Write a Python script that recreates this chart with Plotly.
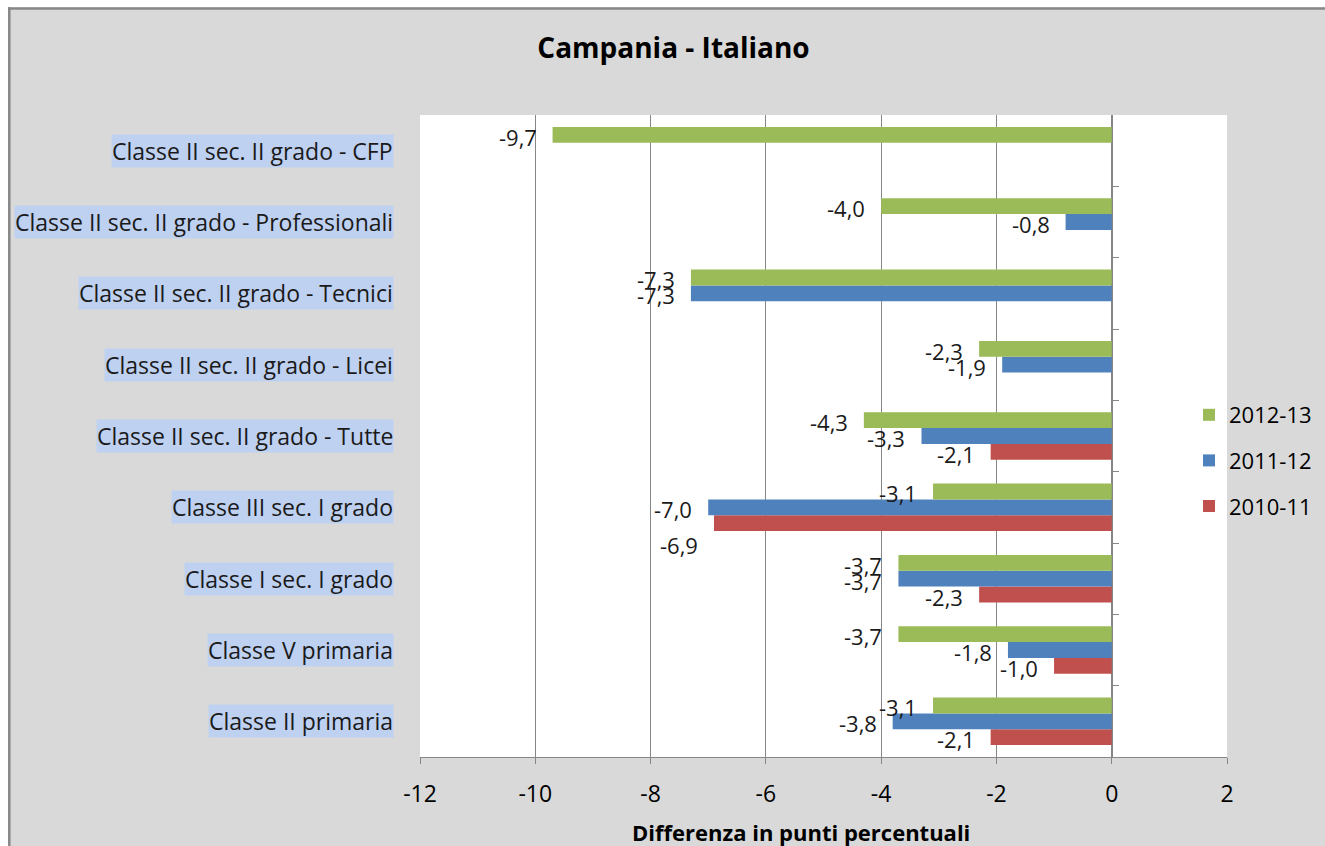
import plotly.graph_objects as go

# ---------------- data ----------------
categories = [
    "Classe II primaria",
    "Classe V primaria",
    "Classe I sec. I grado",
    "Classe III sec. I grado",
    "Classe II sec. II grado - Tutte",
    "Classe II sec. II grado - Licei",
    "Classe II sec. II grado - Tecnici",
    "Classe II sec. II grado - Professionali",
    "Classe II sec. II grado - CFP",
]
v_2010_11 = [-2.1, -1.0, -2.3, -6.9, -2.1, None, None, None, None]
v_2011_12 = [-3.8, -1.8, -3.7, -7.0, -3.3, -1.9, -7.3, -0.8, None]
v_2012_13 = [-3.1, -3.7, -3.7, -3.1, -4.3, -2.3, -7.3, -4.0, -9.7]
x_ticks = [-12, -10, -8, -6, -4, -2, 0, 2]

series = [
    ("2010-11", v_2010_11, "#c0504d"),
    ("2011-12", v_2011_12, "#4f81bd"),
    ("2012-13", v_2012_13, "#9bbb59"),
]
legend_rank = {"2012-13": 1, "2011-12": 2, "2010-11": 3}

# label placement (pixels) for each series, plus individual nudges
label_yshift = {"2010-11": -18, "2011-12": -2, "2012-13": 14}
label_nudge = {("2010-11", "Classe III sec. I grado"): -20}

FONT = "Open Sans, Lato, sans-serif"
GRID = "#868686"

W, H = 1325, 846
L, R, T, B = 420, 98, 115, 89
PW, PH = W - L - R, H - T - B


def px_x(p):
    return (p - L) / PW


def px_y(p):
    return (H - B - p) / PH


fig = go.Figure()
for name, vals, col in series:
    fig.add_trace(go.Bar(
        y=categories, x=vals, name=name, orientation="h",
        marker=dict(color=col, line=dict(width=0)),
        legendgroup=name, legendrank=legend_rank[name],
    ))

annotations = []
for name, vals, col in series:
    for cat, v in zip(categories, vals):
        if v is None:
            continue
        annotations.append(dict(
            x=v, y=cat, xref="x", yref="y",
            text=f"{v:.1f}".replace(".", ","),
            showarrow=False, xanchor="right", yanchor="middle",
            xshift=-14, yshift=label_yshift[name] + label_nudge.get((name, cat), 0),
            font=dict(family=FONT, size=22, color="#1a1a1a"),
        ))

# category labels with highlighted background
for cat in categories:
    annotations.append(dict(
        x=px_x(394), y=cat, xref="paper", yref="y",
        text=cat, showarrow=False, xanchor="right", yanchor="middle",
        bgcolor="#bfd1f0", borderpad=0,
        font=dict(family=FONT, size=23, color="#1a1a1a"),
    ))

# axis title
annotations.append(dict(
    x=px_x(801), y=px_y(832), xref="paper", yref="paper",
    text="<b>Differenza in punti percentuali</b>", showarrow=False,
    xanchor="center", yanchor="middle",
    font=dict(family=FONT, size=22, color="#000000"),
))

shapes = [
    # white strips outside the chart frame
    dict(type="rect", xref="paper", yref="paper", x0=-1, x1=2,
         y0=px_y(7.5), y1=px_y(-20), fillcolor="white", line=dict(width=0), layer="above"),
    dict(type="rect", xref="paper", yref="paper", x0=px_x(-20), x1=px_x(8),
         y0=px_y(900), y1=px_y(-20), fillcolor="white", line=dict(width=0), layer="above"),
    # frame lines
    dict(type="line", xref="paper", yref="paper", x0=px_x(8), x1=px_x(1340),
         y0=px_y(8.5), y1=px_y(8.5), line=dict(color="#878787", width=2.5), layer="above"),
    dict(type="line", xref="paper", yref="paper", x0=px_x(9.3), x1=px_x(9.3),
         y0=px_y(7.3), y1=px_y(900), line=dict(color="#878787", width=2.5), layer="above"),
]

fig.update_layout(
    width=W, height=H,
    margin=dict(l=L, r=R, t=T, b=B, pad=0, autoexpand=False),
    paper_bgcolor="#d9d9d9",
    plot_bgcolor="white",
    barmode="group",
    bargap=1.5 / 4.5,
    bargroupgap=0,
    title=dict(text="<b>Campania - Italiano</b>", x=673.5 / W, xref="container",
               y=1 - 48 / H, yref="container", xanchor="center", yanchor="middle",
               font=dict(family=FONT, size=28, color="#000000")),
    xaxis=dict(
        range=[-12, 2], tickvals=x_ticks, ticktext=[str(t) for t in x_ticks],
        showgrid=True, gridcolor=GRID, gridwidth=1, zeroline=False,
        showline=True, linecolor=GRID, linewidth=1, mirror=False,
        ticks="outside", ticklen=6, tickcolor=GRID, ticklabelstandoff=10,
        tickfont=dict(family=FONT, size=23, color="#000000"),
        fixedrange=True,
    ),
    yaxis=dict(
        type="category", categoryorder="array", categoryarray=categories,
        anchor="free", position=12 / 14,
        showline=True, linecolor=GRID, linewidth=1,
        ticks="inside", ticklen=6, tickcolor=GRID, tickson="boundaries",
        showticklabels=False, showgrid=False, zeroline=False,
        fixedrange=True,
    ),
    legend=dict(
        x=px_x(1189), y=px_y(394), xanchor="left", yanchor="top",
        traceorder="grouped", tracegroupgap=14,
        bgcolor="rgba(0,0,0,0)",
        font=dict(family=FONT, size=22, color="#000000"),
    ),
    annotations=annotations,
    shapes=shapes,
    showlegend=True,
)

fig.write_html(
    "out.html",
    config={"displayModeBar": False},
    post_script="document.body.style.margin='0';"
                "document.documentElement.style.overflow='hidden';"
                "document.body.style.overflow='hidden';",
)
